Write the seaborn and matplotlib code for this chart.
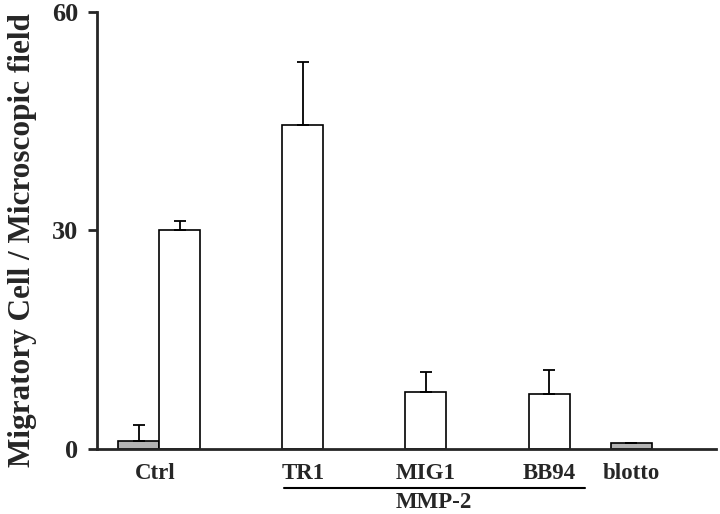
import matplotlib
matplotlib.use("Agg")
import matplotlib.pyplot as plt
import seaborn as sns
import pandas as pd

# values
labels = ["Ctrl", "Ctrl", "TR1", "MIG1", "BB94", "blotto"]
groups = ["basal", "treated", "treated", "treated", "treated", "basal"]
means = [1.1, 30.0, 44.5, 7.8, 7.6, 0.85]
errs = [2.2, 1.3, 8.7, 2.8, 3.3, 0.0]

# layout of the bar slots on the x axis
slots = [0, 1, 4, 7, 10, 12]

df = pd.DataFrame({"pos": slots, "value": means, "group": groups})

sns.set_style("ticks")
plt.rcParams["font.family"] = ["Liberation Serif", "DejaVu Serif"]
plt.rcParams["font.weight"] = "bold"

fig = plt.figure(figsize=(7.2, 5.14), dpi=100)
ax = fig.add_axes([0.1347, 0.1265, 0.8597, 0.8502])

sns.barplot(data=df, x="pos", y="value", hue="group", native_scale=True,
            dodge=False, width=1.0, palette={"basal": "#b4b4b4", "treated": "white"},
            edgecolor="black", linewidth=1.2, legend=False, ax=ax)

lower = [0] * len(errs)
ax.errorbar(slots, means, yerr=[lower, errs], fmt="none", ecolor="black",
            elinewidth=1.3, capsize=4, capthick=1.3)

ax.set_xlim(-1.02, 14.07)
ax.set_ylim(0, 60)
ax.set_yticks([0, 30, 60])
ax.set_yticklabels(["0", "30", "60"], fontsize=19, fontweight="bold")
ax.tick_params(axis="y", length=6.5, width=2, pad=7)
ax.tick_params(axis="x", length=0)
ax.set_xticks([])
ax.set_xlabel("")
ax.set_ylabel("Migratory Cell / Microscopic field", fontsize=22.5, fontweight="bold")
ax.yaxis.set_label_coords(-0.097, 0.478)

for s in ["top", "right"]:
    ax.spines[s].set_visible(False)
for s in ["left", "bottom"]:
    ax.spines[s].set_linewidth(2)

# category labels under the axis
tick_pos = [0.39, 4, 7, 10, 12]
tick_txt = ["Ctrl", "TR1", "MIG1", "BB94", "blotto"]
for p, t in zip(tick_pos, tick_txt):
    ax.text(p, -3.3, t, ha="center", va="center", fontsize=16.5, fontweight="bold")

# MMP-2 bracket
ax.plot([3.54, 10.88], [-5.3, -5.3], color="black", lw=1.5, clip_on=False)
ax.text(7.2, -7.4, "MMP-2", ha="center", va="center", fontsize=16.5, fontweight="bold")

fig.savefig("out.png", dpi=100)
